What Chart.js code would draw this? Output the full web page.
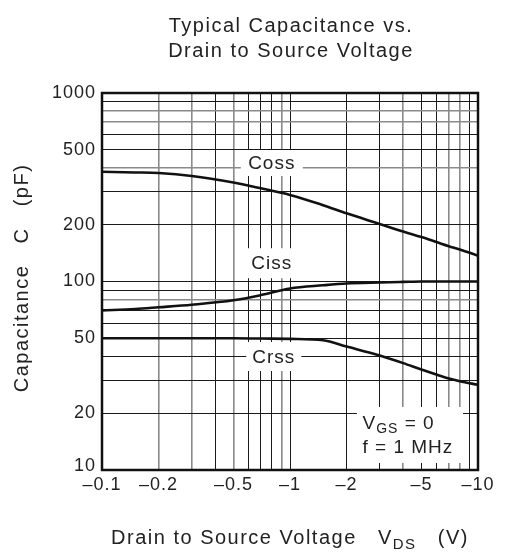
<!DOCTYPE html>
<html><head><meta charset="utf-8">
<script src="https://cdn.jsdelivr.net/npm/chart.js@4.4.0/dist/chart.umd.min.js"></script>
<style>html,body{margin:0;padding:0;background:#fff}#wrap{width:507px;height:556px;position:relative}</style>
</head><body><div id="wrap"><canvas id="c"></canvas></div>
<script>
const titleLines = ['Typical Capacitance vs.', 'Drain to Source Voltage'];
const yAxisTitle = 'Capacitance   C   (pF)';
const xAxisTitleParts = ['Drain to Source Voltage   V', 'DS', '   (V)'];
const vdsMagnitude = [0.1, 0.15, 0.2, 0.3, 0.5, 0.7, 1, 1.5, 2, 3, 4, 5, 6, 7, 8, 10];
const coss = [382, 379, 376, 363, 335, 312, 288, 254, 230, 202, 184, 172, 162, 154, 148, 137];
const ciss = [70.3, 71.5, 73, 75.3, 79.5, 84.7, 91.9, 95.5, 97.6, 98.8, 99.5, 100, 100, 100, 100, 100];
const crss = [50, 50, 50, 50, 50, 49.8, 49.6, 48.8, 45.2, 40.5, 36.9, 34.1, 32.1, 30.6, 29.6, 28.3];
const seriesNames = ['Coss', 'Ciss', 'Crss'];
const xGridValues = [0.1,0.2,0.3,0.4,0.5,0.6,0.7,0.8,0.9,1,2,3,4,5,6,7,8,9,10];
const xTickValues = [0.1, 0.2, 0.5, 1, 2, 5, 10];
const xTickLabels = ['\u20130.1', '\u20130.2', '\u20130.5', '\u20131', '\u20132', '\u20135', '\u201310'];
const yGridValues = [10,20,30,40,50,60,70,80,90,100,200,300,400,500,600,700,800,900,1000];
const yTickValues = [10, 20, 50, 100, 200, 500, 1000];
const yTickLabels = ['10', '20', '50', '100', '200', '500', '1000'];
const noteLine1 = ['V', 'GS', ' = 0'];
const noteLine2 = 'f = 1 MHz';

const xGray = [0.2, 0.3, 0.5, 0.9, 4, 7, 8];
const yGray = [80, 400, 700, 800];
const FONT = '"Liberation Sans", Arial, Helvetica, sans-serif';
const TXT = '#222';

function pts(ys) { return vdsMagnitude.map((x, i) => ({x: x, y: ys[i]})); }
function near(a, b) { return Math.abs(a - b) < 1e-9 * Math.max(1, b); }

const lineStyle = {borderColor: '#111', borderWidth: 2.6, pointRadius: 0, fill: false, cubicInterpolationMode: 'monotone'};

const labelPlugin = {
  id: 'labels',
  beforeDraw(chart) { chart.ctx.letterSpacing = '1px'; },
  beforeDatasetsDraw(chart) {
    const ctx = chart.ctx, xs = chart.scales.x, ys = chart.scales.y;
    ctx.save();
    const anchors = [[0.80, 425, 62, 26], [0.80, 125, 60, 30], [0.82, 40, 55, 29]];
    ctx.font = '19px ' + FONT;
    ctx.textAlign = 'center'; ctx.textBaseline = 'middle';
    anchors.forEach((a, i) => {
      const px = xs.getPixelForValue(a[0]), py = ys.getPixelForValue(a[1]);
      ctx.fillStyle = '#fff';
      ctx.fillRect(px - a[2] / 2, py - a[3] / 2, a[2], a[3]);
      ctx.fillStyle = TXT;
      ctx.fillText(seriesNames[i], px, py + 1);
    });
    const l = xs.getPixelForValue(2.27), r = xs.getPixelForValue(8.32);
    const t = ys.getPixelForValue(21.6), b = ys.getPixelForValue(10.9);
    ctx.fillStyle = '#fff';
    ctx.fillRect(l, t, r - l, b - t);
    ctx.fillStyle = TXT;
    ctx.textAlign = 'left'; ctx.textBaseline = 'alphabetic';
    let x0 = xs.getPixelForValue(2.43);
    let y1 = ys.getPixelForValue(18.0) + 7;
    ctx.font = '19px ' + FONT;
    ctx.fillText(noteLine1[0], x0, y1);
    let w = ctx.measureText(noteLine1[0]).width;
    ctx.font = '14px ' + FONT;
    ctx.fillText(noteLine1[1], x0 + w, y1 + 4);
    w += ctx.measureText(noteLine1[1]).width;
    ctx.font = '19px ' + FONT;
    ctx.fillText(noteLine1[2], x0 + w, y1);
    ctx.fillText(noteLine2, x0, ys.getPixelForValue(13.4) + 7);
    ctx.restore();
  },
  afterDatasetsDraw(chart) {
    const ctx = chart.ctx, a = chart.chartArea;
    ctx.save();
    ctx.strokeStyle = '#111'; ctx.lineWidth = 2.5;
    ctx.strokeRect(a.left, a.top, a.right - a.left, a.bottom - a.top);
    ctx.restore();
  },
  afterDraw(chart) {
    const ctx = chart.ctx, a = chart.chartArea, ys = chart.scales.y;
    ctx.save();
    ctx.letterSpacing = '1.5px';
    ctx.fillStyle = TXT;
    ctx.font = '20px ' + FONT;
    ctx.textAlign = 'center'; ctx.textBaseline = 'middle';
    const cx = 291;
    ctx.fillText(titleLines[0], cx, 26);
    ctx.fillText(titleLines[1], cx, 51);
    ctx.save();
    ctx.translate(22, 278);
    ctx.rotate(-Math.PI / 2);
    ctx.fillText(yAxisTitle, 0, 0);
    ctx.restore();
    ctx.textAlign = 'left'; ctx.textBaseline = 'alphabetic';
    ctx.font = '20px ' + FONT;
    const w0 = ctx.measureText(xAxisTitleParts[0]).width;
    const w2 = ctx.measureText(xAxisTitleParts[2]).width;
    ctx.font = '15px ' + FONT;
    const w1 = ctx.measureText(xAxisTitleParts[1]).width;
    let x = 290 - (w0 + w1 + w2) / 2, y = 544;
    ctx.font = '20px ' + FONT;
    ctx.fillText(xAxisTitleParts[0], x, y);
    ctx.font = '15px ' + FONT;
    ctx.fillText(xAxisTitleParts[1], x + w0, y + 5);
    ctx.font = '20px ' + FONT;
    ctx.fillText(xAxisTitleParts[2], x + w0 + w1, y);
    ctx.letterSpacing = '1px';
    ctx.font = '18px ' + FONT;
    ctx.textAlign = 'right'; ctx.textBaseline = 'middle';
    ctx.fillText(yTickLabels[0], a.left - 6, ys.getPixelForValue(yTickValues[0]) - 4);
    ctx.restore();
  }
};

new Chart(document.getElementById('c'), {
  type: 'scatter',
  data: {
    datasets: [
      Object.assign({label: seriesNames[0], data: pts(coss), showLine: true}, lineStyle),
      Object.assign({label: seriesNames[1], data: pts(ciss), showLine: true}, lineStyle),
      Object.assign({label: seriesNames[2], data: pts(crss), showLine: true}, lineStyle)
    ]
  },
  options: {
    responsive: true, maintainAspectRatio: false, animation: false,
    layout: {padding: {top: 93, right: 29, bottom: 0, left: 0}},
    plugins: {legend: {display: false}, title: {display: false}, tooltip: {enabled: false}},
    scales: {
      x: {
        type: 'logarithmic', min: 0.1, max: 10,
        afterBuildTicks(s) { s.ticks = xGridValues.map(v => ({value: v})); },
        afterFit(s) { s.height = 86; },
        border: {display: false},
        grid: {
          drawTicks: false,
          color: c => xGray.some(g => near(c.tick.value, g)) ? '#8a8a8a' : '#1a1a1a',
          lineWidth: c => xGray.some(g => near(c.tick.value, g)) ? 1.6 : 1
        },
        ticks: {
          autoSkip: false, maxRotation: 0, padding: 4, color: TXT,
          font: {family: FONT, size: 18},
          callback(v) { const i = xTickValues.findIndex(t => near(v, t)); return i >= 0 ? xTickLabels[i] : ''; }
        }
      },
      y: {
        type: 'logarithmic', min: 10, max: 1000,
        afterBuildTicks(s) { s.ticks = yGridValues.map(v => ({value: v})); },
        afterFit(s) { s.width = 102; },
        border: {display: false},
        grid: {
          drawTicks: false,
          color: c => yGray.some(g => near(c.tick.value, g)) ? '#8a8a8a' : '#1a1a1a',
          lineWidth: c => yGray.some(g => near(c.tick.value, g)) ? 1.6 : 1
        },
        ticks: {
          autoSkip: false, padding: 6, color: TXT,
          font: {family: FONT, size: 18},
          callback(v) { const i = yTickValues.findIndex(t => near(v, t)); return i > 0 ? yTickLabels[i] : ''; }
        }
      }
    }
  },
  plugins: [labelPlugin]
});
</script></body></html>
